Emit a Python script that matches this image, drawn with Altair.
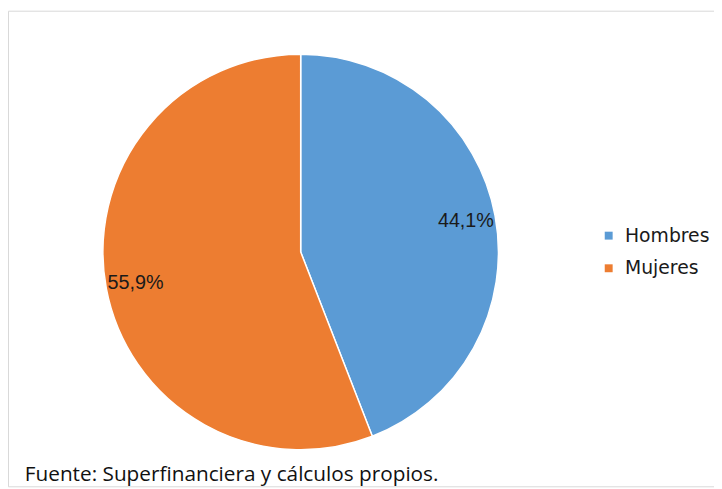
import altair as alt
import pandas as pd

categories = ["Hombres", "Mujeres"]
values = [44.1, 55.9]
labels = ["44,1%", "55,9%"]
colors = ["#5B9BD5", "#ED7D31"]
source_note = ["Fuente: Superfinanciera y cálculos propios."]

df = pd.DataFrame({"cat": categories, "val": values, "lab": labels, "order": [0, 1]})
note_df = pd.DataFrame({"t": source_note})

cx, cy = 296, 244

base = alt.Chart(df).encode(
    theta=alt.Theta("val:Q", stack=True),
    order=alt.Order("order:Q"),
    x=alt.value(cx),
    y=alt.value(cy),
)

pie = base.mark_arc(outerRadius=200, stroke="white", strokeWidth=1.5).encode(
    color=alt.Color(
        "cat:N",
        scale=alt.Scale(domain=categories, range=colors),
        legend=alt.Legend(
            title=None,
            orient="none",
            legendX=598,
            legendY=218,
            symbolType="square",
            symbolSize=64,
            symbolStrokeWidth=0,
            labelFont="DejaVu Sans",
            labelFontSize=19,
            labelColor="#1a1a1a",
            rowPadding=13,
            labelOffset=7,
        ),
    )
)

text = base.mark_text(
    radius=170, font="Liberation Sans", fontSize=20, color="#1a1a1a"
).encode(text="lab:N")

note = alt.Chart(note_df).mark_text(
    align="left", baseline="middle", font="Open Sans", fontSize=21, color="#111111"
).encode(text="t:N", x=alt.value(17), y=alt.value(470))

chart = (
    alt.layer(pie, text, note)
    .properties(width=714, height=481, padding=0, autosize=alt.AutoSizeParams(type="none"))
    .configure_view(stroke="#d9d9d9", strokeWidth=1)
)

chart.save("out.html", embed_options={"renderer": "svg", "actions": False})
